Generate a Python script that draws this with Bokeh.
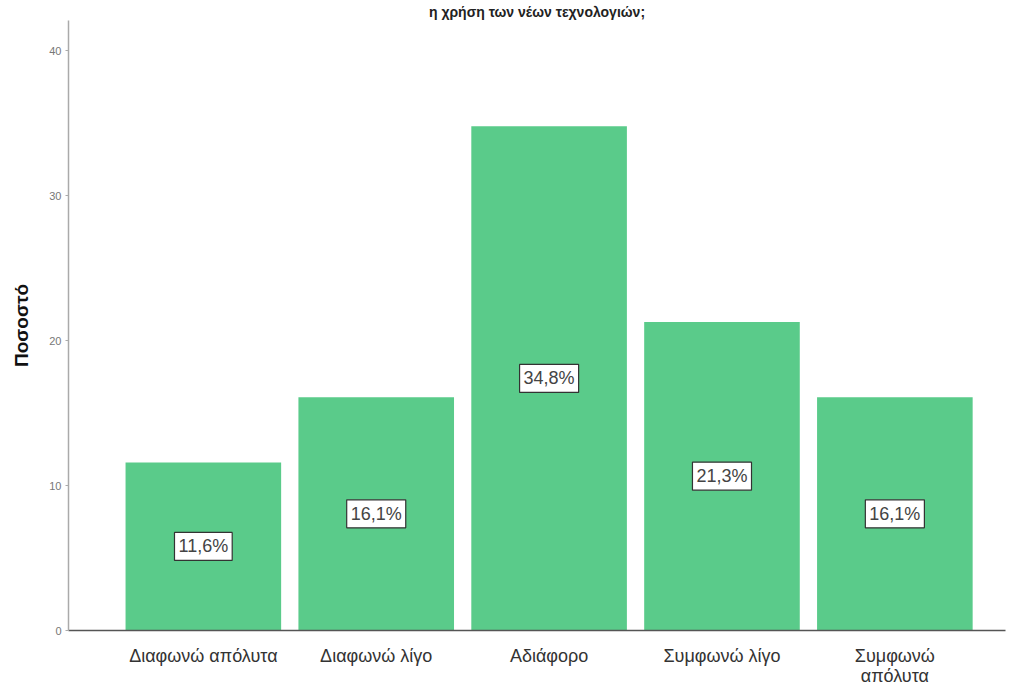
from bokeh.plotting import figure
from bokeh.models import ColumnDataSource, Range1d, FixedTicker
from bokeh.core.properties import value
from bokeh.embed import file_html
from bokeh.resources import INLINE

categories = ["Διαφωνώ απόλυτα", "Διαφωνώ λίγο", "Αδιάφορο", "Συμφωνώ λίγο", "Συμφωνώ\nαπόλυτα"]
values = [11.6, 16.1, 34.8, 21.3, 16.1]
y_ticks = [0, 10, 20, 30, 40]
title_text = "η χρήση των νέων τεχνολογιών;"
y_label = "Ποσοστό"

FONT = "Liberation Sans Narrow, Arial Narrow, Liberation Sans, Arial, sans-serif"
BOLD_FONT = "Liberation Sans, Arial, sans-serif"

xs = list(range(len(categories)))
src = ColumnDataSource(dict(
    x=xs,
    top=values,
    mid=[v / 2 for v in values],
    lab=[("%.1f" % v).replace(".", ",") + "%" for v in values],
))

p = figure(width=1010, height=688, output_backend="svg", toolbar_location=None,
           x_range=Range1d(-0.78, 4.64), y_range=Range1d(0, 42.1),
           min_border_left=68, min_border_right=5, min_border_top=0, min_border_bottom=58)
p.outline_line_color = None
p.xgrid.visible = False
p.ygrid.visible = False
p.background_fill_color = "white"
p.border_fill_color = "white"

p.title.text = title_text
p.title.align = "center"
p.title.offset = -21
p.title.standoff = 2
p.title.text_font = BOLD_FONT
p.title.text_font_style = "bold"
p.title.text_font_size = "14px"
p.title.text_color = "#222222"

p.vbar(x="x", top="top", width=0.9, bottom=0, source=src,
       fill_color="#5ACB8A", line_color=None)

p.text(x="x", y="mid", text="lab", source=src,
       text_align="center", text_baseline="middle",
       text_font=value(FONT), text_font_size="18px", text_color="#444444",
       background_fill_color="white", border_line_color="#333333",
       border_line_width=1.2, padding=4)

# y axis
p.yaxis.ticker = FixedTicker(ticks=y_ticks)
p.yaxis.minor_tick_line_color = None
p.yaxis.major_tick_out = 3
p.yaxis.major_tick_in = 0
p.yaxis.major_tick_line_color = "#aaaaaa"
p.yaxis.axis_line_color = "#aaaaaa"
p.yaxis.axis_line_width = 1.5
p.yaxis.major_label_text_font = FONT
p.yaxis.major_label_text_font_size = "11px"
p.yaxis.major_label_text_color = "#777777"
p.yaxis.major_label_standoff = 4
p.yaxis.axis_label = y_label
p.yaxis.axis_label_text_font = BOLD_FONT
p.yaxis.axis_label_text_font_style = "bold"
p.yaxis.axis_label_text_font_size = "19px"
p.yaxis.axis_label_text_color = "#111111"
p.yaxis.axis_label_standoff = 14

# x axis
p.xaxis.ticker = FixedTicker(ticks=xs)
p.xaxis.major_label_overrides = {i: c for i, c in zip(xs, categories)}
p.xaxis.minor_tick_line_color = None
p.xaxis.major_tick_line_color = None
p.xaxis.axis_line_color = "#555555"
p.xaxis.axis_line_width = 1.5
p.xaxis.major_label_text_font = FONT
p.xaxis.major_label_text_font_size = "18px"
p.xaxis.major_label_text_line_height = 1.0
p.xaxis.major_label_text_color = "#333333"
p.xaxis.major_label_standoff = 9

open("out.html", "w").write(file_html(p, INLINE))
